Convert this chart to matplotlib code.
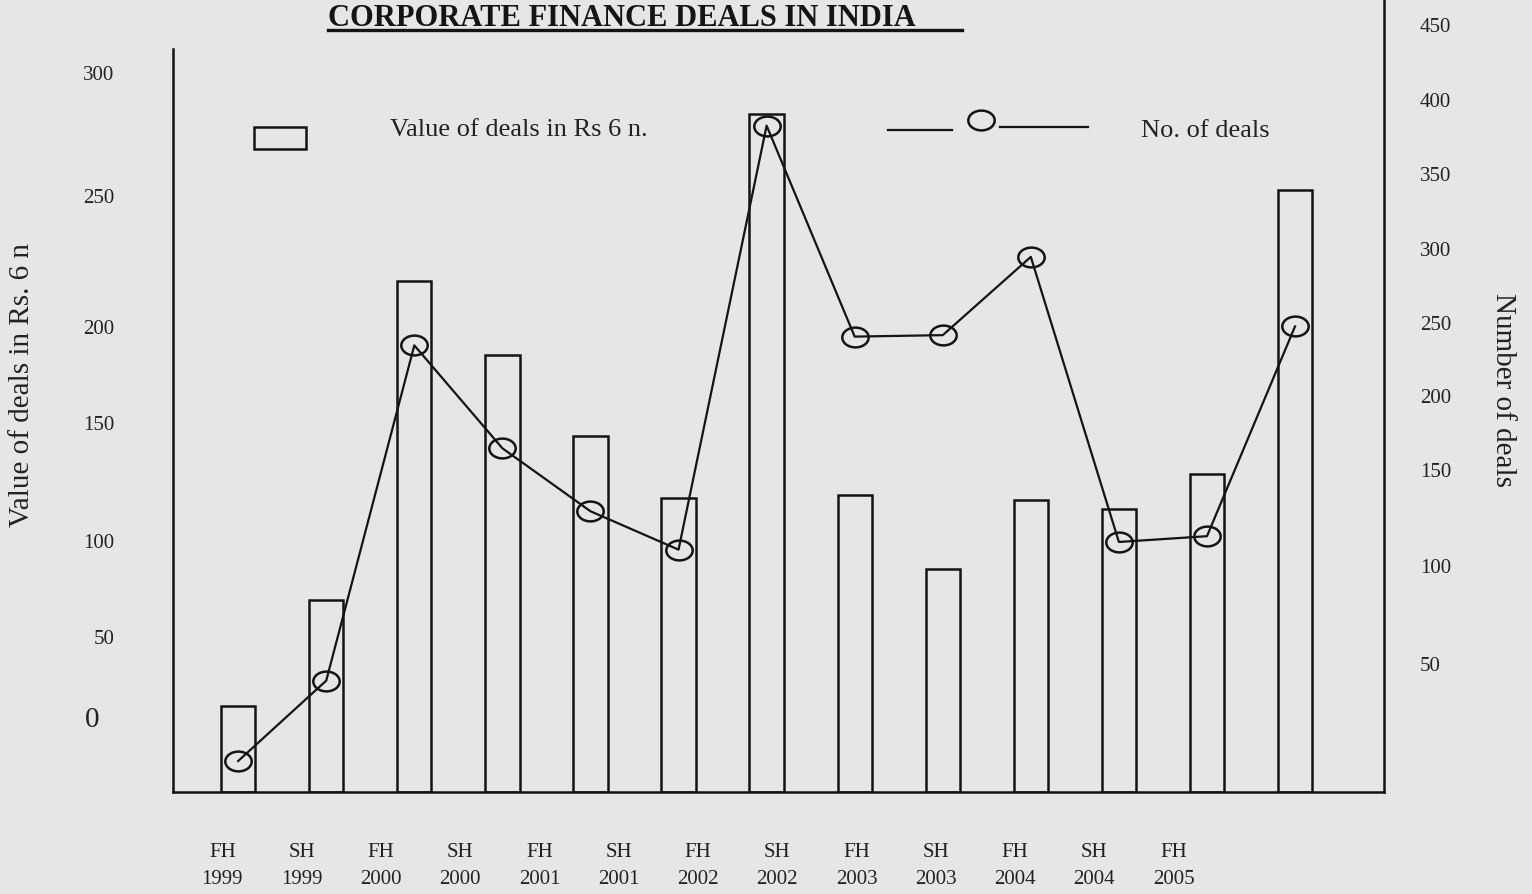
import numpy as np
import matplotlib
matplotlib.use("Agg")
import matplotlib.pyplot as plt
from matplotlib.path import Path
from matplotlib.transforms import Affine2D, ScaledTranslation
from matplotlib.lines import Line2D
from matplotlib.patches import Rectangle

# %% data
periods = ["FH\n1999", "SH\n1999", "FH\n2000", "SH\n2000", "FH\n2001", "SH\n2001",
           "FH\n2002", "SH\n2002", "FH\n2003", "SH\n2003", "FH\n2004", "SH\n2004",
           "FH\n2005"]
deal_value = [6, 69, 217, 185, 144, 118, 283, 119, 85, 117, 113, 128, 252]
deal_count = [0, 41, 234, 164, 128, 108, 382, 240, 241, 294, 112, 115, 247]

value_ticks = [0, 50, 100, 150, 200, 250, 300]
count_ticks = [50, 100, 150, 200, 250, 300, 350, 400, 450]

# the axes were drawn by hand, so the tick marks are not evenly spaced:
# height (px above the bottom edge of the figure) of every tick label
value_tick_px = [178, 258, 354, 472, 568, 699, 822]
count_tick_px = [231, 329, 425, 499, 572, 646, 721, 795, 870]

W, H = 1532, 895
PAPER = "#e6e6e6"
INK = "#141414"
TEXT = "#222222"

plt.rcParams["font.family"] = ["Liberation Serif", "DejaVu Serif"]


def hand_scale(ticks, px, lo_slope, hi_slope):
    """piecewise linear scale through the hand drawn tick positions"""
    t = [ticks[0] - 1000] + list(ticks) + [ticks[-1] + 1000]
    p = [px[0] - 1000 * lo_slope] + list(px) + [px[-1] + 1000 * hi_slope]
    fwd = lambda v: np.interp(v, t, p)
    inv = lambda h: np.interp(h, p, t)
    return fwd, inv


fwd_l, inv_l = hand_scale(value_ticks, value_tick_px, 1.6, 2.46)
fwd_r, inv_r = hand_scale(count_ticks, count_tick_px, 1.96, 1.5)

ax_left, ax_right, ax_bottom = 173, 1384, 102  # pixels
fig = plt.figure(figsize=(W / 100, H / 100), dpi=100)
fig.set_facecolor(PAPER)
ax = fig.add_axes([ax_left / W, ax_bottom / H, (ax_right - ax_left) / W, 1 - ax_bottom / H])
ax.set_facecolor(PAPER)

ax.set_yscale("function", functions=(fwd_l, inv_l))
ymin_l, ymax_l = inv_l(ax_bottom), inv_l(H)
ax.set_ylim(ymin_l, ymax_l)

x = np.arange(len(periods))
vals = np.array(deal_value, dtype=float)
ax.bar(x, vals - ymin_l, bottom=ymin_l, width=0.39, facecolor="none",
       edgecolor=INK, linewidth=1.8)
ax.set_xlim(-0.74, len(periods) - 1 + 1.01)

ax2 = ax.twinx()
ax2.set_yscale("function", functions=(fwd_r, inv_r))
ax2.set_ylim(inv_r(ax_bottom), inv_r(H))

ellipse = Affine2D().scale(1, 0.75).transform_path(Path.unit_circle())
ax2.plot(x, deal_count, color=INK, linewidth=1.6, marker=ellipse,
         markersize=19, markerfacecolor="none", markeredgecolor=INK,
         markeredgewidth=1.8)

# spines
for s in ["top", "right"]:
    ax.spines[s].set_visible(False)
for s in ["top", "left", "bottom"]:
    ax2.spines[s].set_visible(False)
ax.spines["left"].set_bounds(ymin_l, inv_l(H - 50))
ax.spines["left"].set_linewidth(1.8)
ax.spines["bottom"].set_linewidth(1.8)
ax2.spines["right"].set_linewidth(1.8)
for s in ["left", "bottom"]:
    ax.spines[s].set_color(INK)
ax2.spines["right"].set_color(INK)

# ticks
ax.set_yticks(value_ticks, [str(v) for v in value_ticks])
ax.tick_params(axis="y", length=0, pad=42, labelsize=15, labelcolor=TEXT)
zero_lab = ax.get_yticklabels()[0]
zero_lab.set_fontsize(21)
zero_lab.set_transform(zero_lab.get_transform()
                       + ScaledTranslation(-0.15, 0, fig.dpi_scale_trans))
ax2.set_yticks(count_ticks, [str(v) for v in count_ticks])
ax2.tick_params(axis="y", length=0, pad=26, labelsize=15, labelcolor=TEXT)
ax2.yaxis.set_minor_locator(matplotlib.ticker.NullLocator())
ax.yaxis.set_minor_locator(matplotlib.ticker.NullLocator())

ax.set_xticks(x * 0.9 - 0.18, periods)
ax.tick_params(axis="x", length=0, pad=36, labelsize=15, labelcolor=TEXT)
for lab in ax.get_xticklabels():
    lab.set_linespacing(1.55)

# axis titles
fig.text(22 / W, 1 - 385 / H, "Value of deals in Rs. 6 n", rotation=90,
         ha="center", va="center", fontsize=21, color=TEXT)
fig.text(1503 / W, 1 - 390 / H, "Number of deals", rotation=270,
         ha="center", va="center", fontsize=21, color=TEXT)

# title (sits right at the top edge of the scan)
fig.text(328 / W, 1 - 26 / H, "CORPORATE FINANCE DEALS IN INDIA", fontsize=22,
         fontweight="bold", ha="left", va="baseline", color=INK)
fig.add_artist(Line2D([328 / W, 962 / W], [1 - 31 / H] * 2, transform=fig.transFigure,
                      color=INK, linewidth=2.4))

# hand drawn legend
fig.add_artist(Rectangle((254 / W, 1 - 150 / H), 52 / W, 22 / H, transform=fig.transFigure,
                         facecolor="none", edgecolor=INK, linewidth=1.8))
fig.text(390 / W, 1 - 130 / H, "Value of deals in Rs 6 n.", fontsize=19,
         ha="left", va="center", color=TEXT)
fig.add_artist(Line2D([888 / W, 952 / W], [1 - 131 / H] * 2, transform=fig.transFigure,
                      color=INK, linewidth=1.6))
fig.add_artist(Line2D([981 / W], [1 - 121 / H], transform=fig.transFigure, marker=ellipse,
                      markersize=19, markerfacecolor="none", markeredgecolor=INK,
                      markeredgewidth=1.8, linestyle="none"))
fig.add_artist(Line2D([1000 / W, 1088 / W], [1 - 128 / H] * 2, transform=fig.transFigure,
                      color=INK, linewidth=1.6))
fig.text(1141 / W, 1 - 131 / H, "No. of deals", fontsize=19,
         ha="left", va="center", color=TEXT)

fig.savefig("out.png", dpi=100, facecolor=PAPER)
